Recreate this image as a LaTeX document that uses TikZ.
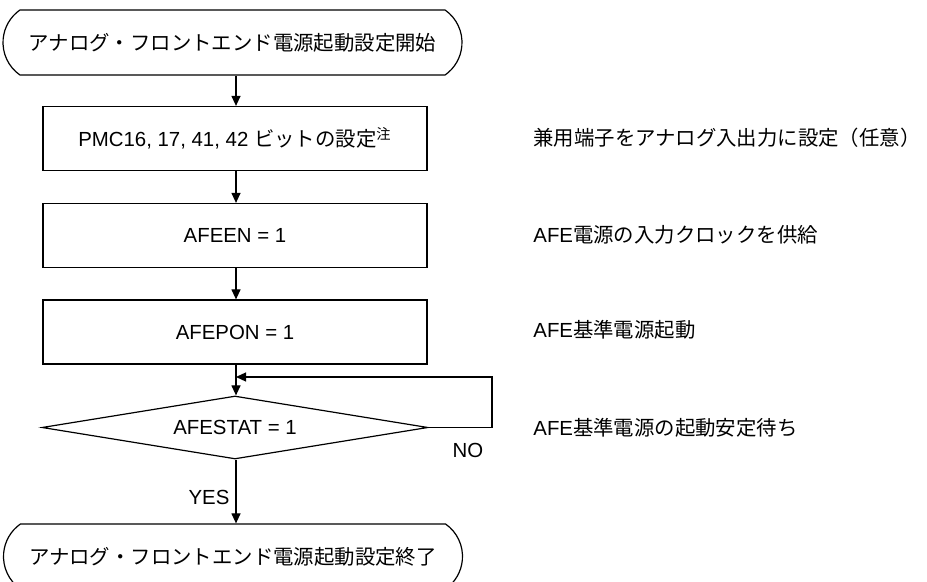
\documentclass[tikz,border=0pt]{standalone}
\usepackage{fontspec}
\setmainfont{Liberation Sans}
\newfontfamily\jp{Noto Sans CJK JP}
\usetikzlibrary{arrows.meta,positioning,shapes.geometric,shapes.misc}
\newcommand{\fsz}{\fontsize{10.2}{12}\selectfont}
\tikzset{
  term/.style={draw,line width=0.6pt,rounded rectangle,rounded rectangle arc length=110,minimum width=229.5pt,minimum height=32.5pt,inner sep=0pt,font=\fsz},
  box/.style={draw,line width=0.6pt,rectangle,minimum width=192pt,minimum height=32pt,inner sep=0pt,font=\fsz},
  cond/.style={draw,line width=0.6pt,diamond,shape aspect=6.1,minimum width=193pt,minimum height=31.5pt,inner sep=0pt,font=\fsz},
  note/.style={anchor=west,inner sep=0pt,font=\fsz},
  lab/.style={inner sep=0pt,font=\fsz},
  arr/.style={-{Triangle[length=5pt,width=4.5pt]},line width=0.6pt},
  line/.style={line width=0.6pt},
}

\begin{document}
\begin{tikzpicture}[x=0.5pt,y=-0.5pt]
  \useasboundingbox (0,0) rectangle (927,582);
  % flow
  \node[term] (start) at (232.5,42.5) {\jp アナログ・フロントエンド電源起動設定開始};
  \node[box] (pmc) at (235,138.5) {PMC16, 17, 41, 42 {\jp ビットの設定}\textsuperscript{\jp 注}};
  \node[box] (afeen) at (235,235.5) {AFEEN = 1};
  \node[box] (afepon) at (235,332) {AFEPON = 1};
  \node[cond] (afestat) at (235,427.5) {AFESTAT = 1};
  \node[term] (stop) at (233,556.5) {\jp アナログ・フロントエンド電源起動設定終了};
  \coordinate (join) at (236,377);
  \coordinate (back) at (492,377);
  % notes
  \node[note] (n1) at (533,138) {\jp 兼用端子をアナログ入出力に設定（任意）};
  \node[note] (n2) at (533,235) {AFE{\jp 電源の入力クロックを供給}};
  \node[note] (n3) at (533,330) {AFE{\jp 基準電源起動}};
  \node[note] (n4) at (533,428) {AFE{\jp 基準電源の起動安定待ち}};
  % connectors
  \draw[arr] (start.south -| join) -- (pmc.north -| join);
  \draw[arr] (pmc.south -| join) -- (afeen.north -| join);
  \draw[arr] (afeen.south -| join) -- (afepon.north -| join);
  \draw[arr] (afepon.south -| join) -- (afestat.north -| join);
  \draw[arr] (afestat.east) -| (back) -- (join);
  \draw[arr] (afestat.south -| join) -- node[lab,left=3pt,pos=0.6] (yes) {YES} (stop.north -| join);
  \node[lab] (no) at (468,450) {NO};
\end{tikzpicture}
\end{document}
